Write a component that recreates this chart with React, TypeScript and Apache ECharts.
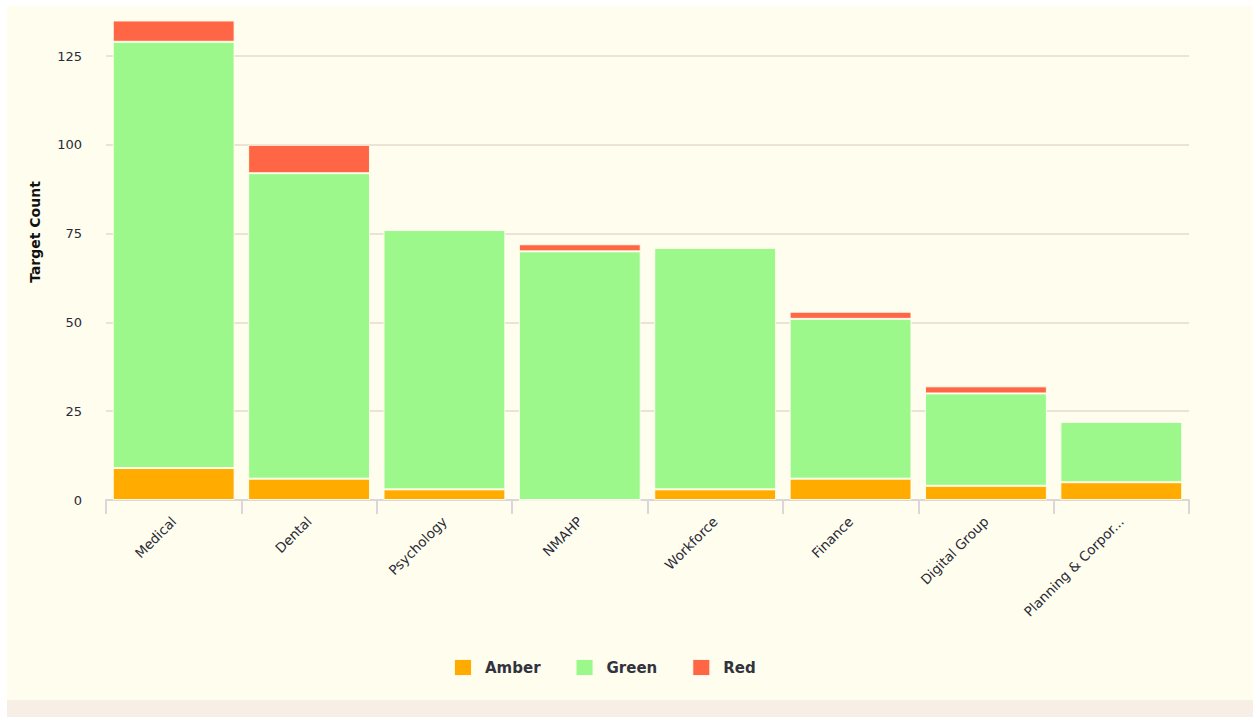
import React, { useEffect, useRef } from "react";
import * as echarts from "echarts";

const categories = [
  "Medical",
  "Dental",
  "Psychology",
  "NMAHP",
  "Workforce",
  "Finance",
  "Digital Group",
  "Planning & Corpor...",
];
const amberValues = [9, 6, 3, 0, 3, 6, 4, 5];
const greenValues = [120, 86, 73, 70, 68, 45, 26, 17];
const redValues = [6, 8, 0, 2, 0, 2, 2, 0];
const seriesNames = ["Amber", "Green", "Red"];
const seriesColors = ["#ffab00", "#9cf88b", "#ff6645"];
const yAxisName = "Target Count";

const FONT = "'DejaVu Sans', Verdana, sans-serif";

export default function App() {
  const ref = useRef<HTMLDivElement>(null);

  useEffect(() => {
    if (!ref.current) return;
    const chart = echarts.init(ref.current, undefined, { renderer: "svg" });
    const data = [amberValues, greenValues, redValues];
    chart.setOption({
      animation: false,
      backgroundColor: "#fffeee",
      textStyle: { fontFamily: FONT },
      grid: { left: 99, right: 64, top: 50, bottom: 200, containLabel: false },
      legend: {
        data: seriesNames,
        left: 441,
        top: 647,
        icon: "rect",
        itemWidth: 18,
        itemHeight: 17,
        itemGap: 34,
        textStyle: {
          fontFamily: FONT,
          fontSize: 15,
          fontWeight: "bold",
          color: "#333340",
          padding: [0, 0, 0, 8],
        },
      },
      xAxis: {
        type: "category",
        data: categories,
        axisLine: { lineStyle: { color: "#dcd5da", width: 2 } },
        axisTick: { show: true, length: 14, lineStyle: { color: "#dcd5da", width: 2 } },
        axisLabel: {
          rotate: 45,
          margin: 19,
          fontSize: 13.5,
          color: "#2a2a38",
          fontFamily: FONT,
          interval: 0,
        },
      },
      yAxis: {
        type: "value",
        min: 0,
        max: 125,
        interval: 25,
        name: yAxisName,
        nameLocation: "middle",
        nameGap: 64,
        nameTextStyle: {
          fontFamily: FONT,
          fontSize: 14,
          fontWeight: "bold",
          color: "#111",
          padding: [0, 0, 0, 92],
        },
        axisLine: { show: false },
        axisTick: { show: false },
        axisLabel: { margin: 24, fontSize: 13, color: "#2a2a38", fontFamily: FONT },
        splitLine: { lineStyle: { color: "#e4dacd", width: 1.5 } },
      },
      series: seriesNames.map((name, i) => ({
        name,
        type: "bar",
        stack: "total",
        clip: false,
        barCategoryGap: "10%",
        data: data[i],
        itemStyle: {
          color: seriesColors[i],
          borderColor: "rgba(255,255,240,0.9)",
          borderWidth: 1,
        },
      })),
    });
    return () => chart.dispose();
  }, []);

  return (
    <div
      style={{
        position: "fixed",
        left: 0,
        top: 0,
        width: 1253,
        height: 717,
        background: "#ffffff",
        overflow: "hidden",
      }}
    >
      <div
        style={{
          position: "absolute",
          left: 7,
          top: 700,
          width: 1246,
          height: 17,
          background: "#f7efe6",
        }}
      />
      <div
        ref={ref}
        style={{ position: "absolute", left: 7, top: 6, width: 1246, height: 694 }}
      />
    </div>
  );
}
